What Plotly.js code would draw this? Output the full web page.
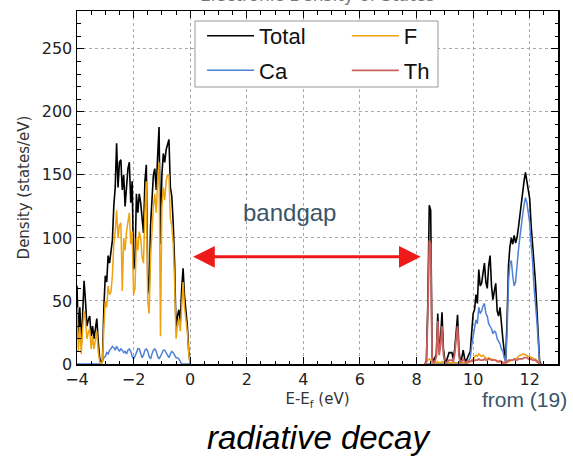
<!DOCTYPE html>
<html>
<head>
<meta charset="utf-8">
<script src="https://cdn.plot.ly/plotly-3.0.1.min.js"></script>
<style>html,body{margin:0;padding:0;background:#fff;}#chart{width:573px;height:456px;}</style>
</head>
<body>
<div id="chart"></div>
<script>
// Energy grids (eV), sampled every 0.05 eV
function grid(start, step, n) { var a = []; for (var i = 0; i < n; i++) a.push(Math.round((start + i * step) * 100) / 100); return a; }
var energyValence = grid(-4.00, 0.05, 81);     // -4.00 ... 0.00
var energyConduction = grid(8.30, 0.05, 83);   // 8.30 ... 12.40

// Valence band DOS (states/eV)
var totalValence = [62,20,45,15,40,66,50,30,35,38,
  22,30,20,28,36,18,5,0,3,45,
  70,65,86,80,90,98,125,140,175,140,
  160,162,138,150,125,140,155,160,128,145,
  75,80,135,120,135,128,115,104,145,158,
  70,56,110,133,150,155,138,165,188,95,
  150,167,160,170,175,178,140,133,112,80,
  27,38,43,33,60,76,54,43,30,10,
  0];
var fValence = [45,10,30,8,28,42,35,20,25,28,
  12,22,12,20,26,10,2,0,2,30,
  50,45,62,55,57,70,95,105,122,100,
  110,112,58,100,90,105,115,120,95,105,
  55,60,100,90,105,100,85,80,120,145,
  50,40,85,110,125,135,120,145,160,22,
  125,140,130,145,150,150,115,110,95,65,
  20,30,36,26,50,65,45,36,25,8,
  0];
var caValence = [0,0,0,0,0,0,0,0,0,0,
  0,0,0,0,0,0,0,0,2,5,
  6,9,8,11,12,14,13,11,14,12,
  10,12,11,9,10,8,11,12,10,6,
  4,6,10,12,12,9,5,7,11,12,
  10,6,4,8,11,12,10,6,4,6,
  9,11,11,9,6,5,8,10,9,7,
  5,5,4,2,0,0,0,0,0,0,
  0];

// Conduction band DOS (states/eV)
var totalConduction = [0,3,49,126,122,6,2,5,8,40,
  10,20,41,12,3,2,5,9,9,9,
  4,12,25,39,10,2,5,11,4,2,
  5,8,10,25,40,43,55,48,75,62,
  64,72,80,65,60,78,86,62,51,58,
  64,42,38,45,30,20,10,3,35,78,
  93,100,95,102,96,100,108,118,130,136,
  145,152,146,138,131,110,96,75,66,45,
  25,2,0];
var thConduction = [0,2,40,98,95,4,1,2,6,34,
  7,15,30,8,1,1,2,3,3,3,
  2,8,20,30,6,1,2,4,2,1,
  2,2,2,3,2,3,3,3,4,3,
  3,3,4,3,3,4,4,3,3,3,
  3,2,2,2,2,1,1,1,2,3,
  3,3,3,4,3,3,4,4,4,4,
  5,5,5,4,4,4,3,3,3,2,
  1,0,0];
var caConduction = [0,0,0,0,0,0,0,0,0,0,
  0,0,0,0,0,0,0,0,0,0,
  0,0,0,0,0,0,0,0,0,0,
  1,3,5,15,22,28,35,32,45,40,
  42,46,48,40,38,32,30,28,24,26,
  25,20,18,16,12,10,5,1,25,65,
  80,82,70,62,65,80,90,100,112,118,
  126,132,128,120,112,95,82,62,50,35,
  18,1,0];
var fConduction = [0,1,3,4,3,1,1,1,1,2,
  1,1,2,1,1,1,1,1,1,1,
  1,1,1,1,1,1,1,1,1,1,
  1,1,2,2,4,6,7,6,8,7,
  6,7,6,5,4,5,4,3,4,3,
  3,2,2,3,2,1,1,1,1,2,
  2,3,3,4,4,5,6,7,7,8,
  8,7,7,6,6,5,5,4,4,3,
  2,0,0];

var seriesNames = ['Total', 'Ca', 'F', 'Th'];
var xTicks = [-4, -2, 0, 2, 4, 6, 8, 10, 12];
var yTicks = [0, 50, 100, 150, 200, 250];
var bandgapEdges = [0.05, 8.15];
var bandgapLevel = 85;

function join(a, b) { return a.concat([null], b); }

var traces = [
  {name: seriesNames[0], x: join(energyValence, energyConduction), y: join(totalValence, totalConduction),
   type: 'scatter', mode: 'lines', line: {color: '#000000', width: 1.6}, legend: 'legend', legendgroup: 'g1', legendrank: 1},
  {name: seriesNames[1], x: join(energyValence, energyConduction), y: join(caValence, caConduction),
   type: 'scatter', mode: 'lines', line: {color: '#4f82d6', width: 1.5}, legend: 'legend', legendgroup: 'g2', legendrank: 2},
  {name: seriesNames[2], x: join(energyValence, energyConduction), y: join(fValence, fConduction),
   type: 'scatter', mode: 'lines', line: {color: '#f0a20c', width: 1.5}, legend: 'legend2', legendgroup: 'g3', legendrank: 1},
  {name: seriesNames[3], x: energyConduction, y: thConduction,
   type: 'scatter', mode: 'lines', line: {color: '#c9605e', width: 1.8}, legend: 'legend2', legendgroup: 'g4', legendrank: 2}
];

var axisCommon = {
  showline: true, linecolor: '#000', linewidth: 1.5, mirror: 'allticks',
  ticks: 'inside', ticklen: 7, tickwidth: 1, tickcolor: '#000',
  showgrid: true, gridcolor: '#a8a8a8', griddash: 'dot', gridwidth: 1,
  zeroline: false,
  tickfont: {family: 'DejaVu Sans', size: 16, color: '#222'}
};

var legendCommon = {
  orientation: 'v', xanchor: 'left', yanchor: 'top', y: 0.989,
  bgcolor: 'rgba(0,0,0,0)', borderwidth: 0,
  font: {family: 'Liberation Sans', size: 22, color: '#111'},
  itemwidth: 47, tracegroupgap: 3, traceorder: 'grouped'
};

var layout = {
  width: 573, height: 456,
  margin: {l: 77, r: 15, t: 11, b: 92},
  paper_bgcolor: '#fff', plot_bgcolor: '#fff',
  showlegend: true,
  xaxis: Object.assign({}, axisCommon, {
    range: [-4, 13], tickvals: xTicks,
    minor: {ticks: 'inside', ticklen: 3.5, dtick: 0.5, tick0: 0, tickcolor: '#000', showgrid: false},
    title: {text: 'E-E<sub>f</sub> (eV)', font: {family: 'DejaVu Sans', size: 15, color: '#333'}, standoff: 6}
  }),
  yaxis: Object.assign({}, axisCommon, {
    range: [0, 280], tickvals: yTicks,
    minor: {ticks: 'inside', ticklen: 3.5, dtick: 10, tick0: 0, tickcolor: '#000', showgrid: false},
    title: {text: 'Density (states/eV)', font: {family: 'DejaVu Sans', size: 15, color: '#333'}, standoff: 8}
  }),
  legend: Object.assign({}, legendCommon, {x: 0.26}),
  legend2: Object.assign({}, legendCommon, {x: 0.561}),
  shapes: [
    {type: 'rect', xref: 'paper', yref: 'paper', x0: 0.2453, x1: 0.7505, y0: 0.7847, y1: 0.9717,
     layer: 'above', fillcolor: '#ffffff', line: {color: '#999', width: 1}}
  ],
  annotations: [
    {xref: 'paper', yref: 'paper', x: 0.5, y: 1.045, xanchor: 'center', yanchor: 'middle', showarrow: false,
     text: 'Electronic Density of States', font: {family: 'DejaVu Sans', size: 17, color: '#777'}},
    {xref: 'x', yref: 'y', axref: 'x', ayref: 'y', x: bandgapEdges[1], y: bandgapLevel, ax: bandgapEdges[0], ay: bandgapLevel,
     text: '', showarrow: true, arrowside: 'end+start', arrowhead: 2, startarrowhead: 2,
     arrowsize: 1.45, startarrowsize: 1.45, arrowwidth: 3, arrowcolor: '#ee1a1a'},
    {xref: 'x', yref: 'y', x: 3.5, y: 120, showarrow: false, text: 'bandgap',
     font: {family: 'Liberation Sans', size: 24, color: '#3a5569'}},
    {xref: 'paper', yref: 'paper', x: 0.931, y: -0.1, xanchor: 'center', yanchor: 'middle', showarrow: false,
     text: 'from (19)', font: {family: 'Liberation Sans', size: 21, color: '#3a5569'}},
    {xref: 'paper', yref: 'paper', x: 0.503, y: -0.207, xanchor: 'center', yanchor: 'middle', showarrow: false,
     text: '<i>radiative decay</i>', font: {family: 'Liberation Sans', size: 33, color: '#000'}}
  ]
};

Plotly.newPlot('chart', traces, layout, {displayModeBar: false, staticPlot: true});
</script>
</body>
</html>
